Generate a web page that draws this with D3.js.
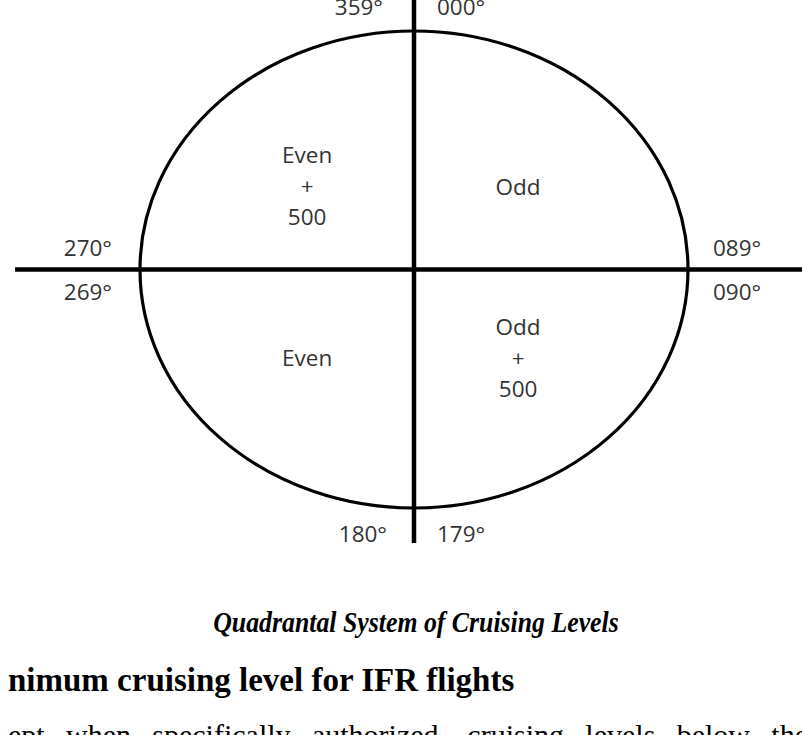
<!DOCTYPE html>
<html lang="en">
<head>
    <meta charset="UTF-8"/>
    <title>Quadrantal System of Cruising Levels</title>
    <script src="https://d3js.org/d3.v7.min.js"></script>
    <style>
        body { margin: 0; background: #fff; overflow: hidden; }
        .dir { font-family: "Open Sans", sans-serif; font-size: 22.5px; fill: #333; }
        .quad { font-family: "Open Sans", sans-serif; font-size: 22.5px; fill: #333; text-anchor: middle; }
        .caption { font-family: "Liberation Serif", serif; font-style: italic; font-weight: bold; font-size: 30px; fill: #000; text-anchor: middle; }
        .heading { font-family: "Liberation Serif", serif; font-weight: bold; font-size: 33px; fill: #000; }
        .body { font-family: "Liberation Serif", serif; font-size: 30px; fill: #000; }
    </style>
</head>
<body>
<script>
    var w = 802;
    var h = 735;

    // headings at each end of the two axes, two per end
    var topLabels = ["359°", "000°"];
    var rightLabels = ["089°", "090°"];
    var bottomLabels = ["180°", "179°"];
    var leftLabels = ["270°", "269°"];

    // quadrant texts: NW, NE, SW, SE
    var quadrantNames = ["NW", "NE", "SW", "SE"];
    var quadrantLines = [["Even", "+", "500"], ["Odd"], ["Even"], ["Odd", "+", "500"]];

    var captionText = "Quadrantal System of Cruising Levels";
    var headingText = "nimum cruising level for IFR flights";
    var bodyText = "ept when specifically authorized, cruising levels below the";

    // unit circle coordinates mapped onto the ellipse
    var x = d3.scaleLinear().domain([-1, 1]).range([140, 688]);
    var y = d3.scaleLinear().domain([1, -1]).range([31, 508]);

    var svg = d3.select("body").append("svg")
        .attr("width", w)
        .attr("height", h);

    // ellipse
    svg.append("ellipse")
        .attr("cx", x(0))
        .attr("cy", y(0))
        .attr("rx", x(1) - x(0))
        .attr("ry", y(-1) - y(0))
        .attr("fill", "none")
        .attr("stroke", "#000")
        .attr("stroke-width", 3.2);

    // axes
    svg.append("line")
        .attr("x1", x(0)).attr("x2", x(0))
        .attr("y1", 0).attr("y2", y(-1.147))
        .attr("stroke", "#000").attr("stroke-width", 4.5);

    svg.append("line")
        .attr("x1", x(-1.456)).attr("x2", w)
        .attr("y1", y(0)).attr("y2", y(0))
        .attr("stroke", "#000").attr("stroke-width", 4.5);

    // direction labels
    var g = svg.append("g").attr("class", "dir");

    g.selectAll(".top").data(topLabels).enter().append("text")
        .attr("x", function(d, i) { return x(0) + (i === 0 ? -31 : 23); })
        .attr("y", 15)
        .attr("text-anchor", function(d, i) { return i === 0 ? "end" : "start"; })
        .text(function(d) { return d; });

    g.selectAll(".bottom").data(bottomLabels).enter().append("text")
        .attr("x", function(d, i) { return x(0) + (i === 0 ? -27 : 23); })
        .attr("y", y(-1) + 34)
        .attr("text-anchor", function(d, i) { return i === 0 ? "end" : "start"; })
        .text(function(d) { return d; });

    g.selectAll(".left").data(leftLabels).enter().append("text")
        .attr("x", x(-1) - 28)
        .attr("y", function(d, i) { return y(0) + (i === 0 ? -14 : 30); })
        .attr("text-anchor", "end")
        .text(function(d) { return d; });

    g.selectAll(".right").data(rightLabels).enter().append("text")
        .attr("x", x(1) + 25)
        .attr("y", function(d, i) { return y(0) + (i === 0 ? -14 : 30); })
        .attr("text-anchor", "start")
        .text(function(d) { return d; });

    // quadrant texts
    var qx = { NW: -0.39, NE: 0.38, SW: -0.39, SE: 0.38 };
    var qy = { NW: 0.35, NE: 0.345, SW: -0.37, SE: -0.37 };
    var lineGap = 31;

    quadrantNames.forEach(function(q, qi) {
        var lines = quadrantLines[qi];
        var cy = y(qy[q]);
        var t = svg.append("text").attr("class", "quad");
        lines.forEach(function(s, li) {
            t.append("tspan")
                .attr("x", x(qx[q]))
                .attr("y", cy + (li - (lines.length - 1) / 2) * lineGap + 8)
                .text(s);
        });
    });

    // caption (narrow bold italic face) and text below
    svg.append("text").attr("class", "caption")
        .attr("transform", "translate(" + (x(0) + 2) + ",632) scale(0.86,1)")
        .text(captionText);

    svg.append("text").attr("class", "heading")
        .attr("x", 8)
        .attr("y", 691)
        .text(headingText);

    // justified body line: spread the words across the width
    var body = svg.append("text").attr("class", "body")
        .attr("x", 8)
        .attr("y", 745)
        .text(bodyText);
    var natural = body.node().getComputedTextLength();
    var gaps = bodyText.split(" ").length - 1;
    body.style("word-spacing", ((808 - 8 - natural) / gaps) + "px");
</script>
</body>
</html>
